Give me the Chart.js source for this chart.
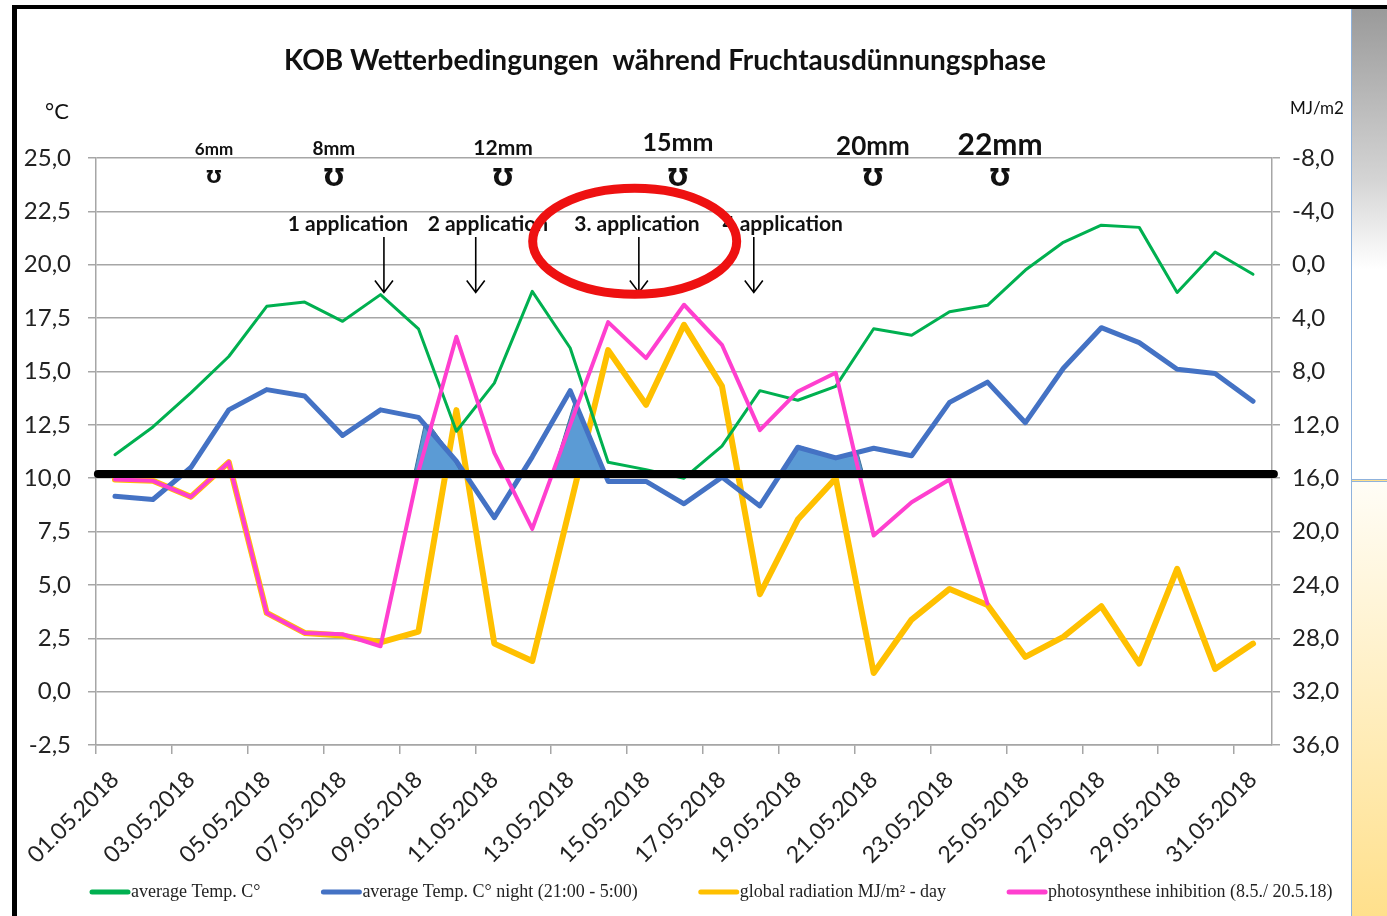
<!DOCTYPE html>
<html>
<head>
<meta charset="utf-8">
<script src="https://cdn.jsdelivr.net/npm/chart.js@4.4.1/dist/chart.umd.min.js"></script>
<style>
  html, body { margin: 0; padding: 0; background: #fff; }
  body { width: 1387px; height: 916px; position: relative; overflow: hidden; }
  #frame { position: absolute; left: 12px; top: 5px; right: 0; bottom: 0;
    border-left: 5px solid #000; border-top: 4px solid #000; }
  #strip { position: absolute; left: 1351px; top: 9px; width: 36px; height: 470px;
    border-left: 1px solid #8fb2dc;
    background: linear-gradient(to bottom, #9a9a9a 0px, #d4d4d4 170px, #fff 260px, #fff 100%); }
  #strip2 { position: absolute; left: 1351px; top: 479px; width: 36px; bottom: 0;
    border-left: 1px solid #8fb2dc; border-top: 3px double #8fb2dc;
    background: linear-gradient(to bottom, #fffdf6, #ffe08c); }
  #wrap { position: absolute; left: 17px; top: 9px; width: 1334px; height: 907px; }
</style>
</head>
<body>
<div id="frame"></div>
<div id="strip"></div>
<div id="strip2"></div>
<div id="wrap"><canvas id="c" width="1334" height="907"></canvas></div>
<script>
// categories
const days = ['01.05.2018', '02.05.2018', '03.05.2018', '04.05.2018', '05.05.2018', '06.05.2018',
  '07.05.2018', '08.05.2018', '09.05.2018', '10.05.2018', '11.05.2018', '12.05.2018',
  '13.05.2018', '14.05.2018', '15.05.2018', '16.05.2018', '17.05.2018', '18.05.2018',
  '19.05.2018', '20.05.2018', '21.05.2018', '22.05.2018', '23.05.2018', '24.05.2018',
  '25.05.2018', '26.05.2018', '27.05.2018', '28.05.2018', '29.05.2018', '30.05.2018', '31.05.2018'];

// °C, left axis
const tempDay = [11.1, 12.4, 14.0, 15.7, 18.05, 18.25, 17.35, 18.6, 17.0, 12.2, 14.45, 18.75, 16.1,
  10.75, 10.4, 10.0, 11.5, 14.1, 13.65, 14.3, 17.0, 16.7, 17.8, 18.1, 19.75, 21.05, 21.85, 21.75,
  18.7, 20.6, 19.55];
const tempNight = [9.15, 9.0, 10.5, 13.2, 14.15, 13.85, 12.0, 13.2, 12.85, 10.8, 8.15, 11.0, 14.1,
  9.85, 9.85, 8.8, 10.05, 8.7, 11.45, 10.95, 11.4, 11.05, 13.55, 14.5, 12.6, 15.15, 17.05, 16.35,
  15.1, 14.9, 13.6];

// MJ/m2, right axis (reversed)
const radiation = [16.1, 16.2, 17.4, 14.8, 26.1, 27.6, 27.8, 28.3, 27.5, 10.9, 28.4, 29.7, 18.1,
  6.4, 10.5, 4.5, 9.1, 24.7, 19.1, 16.0, 30.6, 26.6, 24.3, 25.5, 29.4, 27.9, 25.6, 29.9, 22.8,
  30.3, 28.4];
const inhibition = [16.1, 16.2, 17.4, 14.8, 26.1, 27.6, 27.7, 28.6, 15.5, 5.4, 14.1, 19.8, 12.0,
  4.3, 7.0, 3.0, 6.0, 12.4, 9.5, 8.1, 20.3, 17.8, 16.1, 25.4, null, null, null, null, null, null, null];

// threshold line and shaded night-temperature peaks (x = day index)
const threshold = 10.2;
const shadeA = [{ x: 7.88, y: 10.25 }, { x: 8.14, y: 12.4 }, { x: 8.32, y: 12.45 }, { x: 8.77, y: 11.35 }, { x: 9.12, y: 10.25 }];
const shadeB = [{ x: 11.54, y: 10.25 }, { x: 12.11, y: 13.6 }, { x: 12.86, y: 10.25 }];
const shadeC = [{ x: 17.62, y: 10.25 }, { x: 18.06, y: 11.5 }, { x: 19.07, y: 10.95 }, { x: 19.6, y: 11.1 }, { x: 19.73, y: 10.25 }];

// annotations
const rainLabels = ['6mm', '8mm', '12mm', '15mm', '20mm', '22mm'];
const rainAt = [2.61, 5.77, 10.23, 14.84, 19.98, 23.33];
const applications = ['1 application', '2 application', '3. application', '4 application'];
const applicationAt = [6.14, 9.83, 13.76, 17.6];
const arrowAt = [7.09, 9.51, 13.81, 16.84];

const fmt = v => v.toFixed(1).replace('.', ',');
const GRID = '#a6a6a6';

const overlay = {
  id: 'overlay',
  afterDraw(chart) {
    const ctx = chart.ctx;
    const xs = chart.scales.xs, y = chart.scales.y;
    const px = v => xs.getPixelForValue(v);
    const py = v => y.getPixelForValue(v);
    ctx.save();
    ctx.fillStyle = '#111';
    ctx.textBaseline = 'alphabetic';
    ctx.textAlign = 'center';

    ctx.font = 'bold 28px Lato';
    ctx.fillText('KOB Wetterbedingungen  während Fruchtausdünnungsphase', 648, 61);

    ctx.font = '22px Lato';
    ctx.fillText('°C', 40, 110);
    ctx.font = '17px Lato';
    ctx.fillText('MJ/m2', 1300, 105);

    // rain amounts
    const rainSize = [17, 19, 21, 25, 26, 30];
    const symSize = [18, 24, 24, 24, 24, 24];
    rainLabels.forEach((t, i) => {
      ctx.font = 'bold ' + rainSize[i] + 'px Lato';
      ctx.fillText(t, px(rainAt[i]), py(i === 3 ? 25.35 : 25.15));
      ctx.font = 'bold ' + symSize[i] + 'px "DejaVu Sans"';
      ctx.fillText('Ʊ', px(rainAt[i]), py(i === 0 ? 23.85 : 23.7));
    });

    // applications
    ctx.font = 'bold 21px Lato';
    applications.forEach((t, i) => {
      ctx.fillText(t, px(applicationAt[i]), py(21.6));
    });
    ctx.strokeStyle = '#000';
    ctx.lineWidth = 1.6;
    arrowAt.forEach(a => {
      const x = px(a), y0 = py(21.3), y1 = py(18.7);
      ctx.beginPath();
      ctx.moveTo(x, y0); ctx.lineTo(x, y1);
      ctx.moveTo(x - 9, y1 - 12); ctx.lineTo(x, y1); ctx.lineTo(x + 9, y1 - 12);
      ctx.stroke();
    });

    // red ellipse
    ctx.strokeStyle = '#ee1111';
    ctx.lineWidth = 9;
    ctx.beginPath();
    ctx.ellipse(px(13.7), py(21.1), 102, 53, 0, 0, Math.PI * 2);
    ctx.stroke();

    // legend
    let lx = 73;
    const ly = 883;
    [0, 1, 2, 3].forEach(i => {
      const ds = chart.data.datasets[i];
      ctx.strokeStyle = ds.borderColor;
      ctx.lineWidth = 5;
      ctx.lineCap = 'round';
      ctx.beginPath(); ctx.moveTo(lx + 2, ly); ctx.lineTo(lx + 38, ly); ctx.stroke();
      ctx.font = '18px "Liberation Serif"';
      ctx.textAlign = 'left';
      ctx.textBaseline = 'middle';
      ctx.fillStyle = '#222';
      ctx.fillText(ds.label, lx + 41, ly);
      lx += 41 + ctx.measureText(ds.label).width + 61;
    });
    ctx.restore();
  }
};

const shade = (data) => ({
  type: 'line', data: data, xAxisID: 'xs', yAxisID: 'y',
  borderColor: '#41719c', borderWidth: 1, backgroundColor: '#5b9bd5',
  fill: { value: 10.25 }, pointRadius: 0, order: 4,
});

new Chart(document.getElementById('c'), {
  type: 'line',
  data: {
    labels: days,
    datasets: [
      { label: 'average Temp. C°', data: tempDay, yAxisID: 'y', borderColor: '#00b050', borderWidth: 3, order: 2 },
      { label: 'average Temp. C° night (21:00 - 5:00)', data: tempNight, yAxisID: 'y', borderColor: '#4472c4', borderWidth: 5, order: 3 },
      { label: 'global radiation MJ/m² - day', data: radiation, yAxisID: 'y1', borderColor: '#ffc000', borderWidth: 6, order: 5 },
      { label: 'photosynthese inhibition (8.5./ 20.5.18)', data: inhibition, yAxisID: 'y1', borderColor: '#ff3fcf', borderWidth: 4, order: 1 },
      shade(shadeA),
      shade(shadeB),
      shade(shadeC),
      {
        data: [{ x: -0.45, y: threshold }, { x: 30.55, y: threshold }], xAxisID: 'xs', yAxisID: 'y',
        borderColor: '#000', borderWidth: 8, pointRadius: 0, order: 0, clip: 6,
      },
    ],
  },
  options: {
    responsive: false,
    animation: false,
    layout: { padding: { top: 149, left: 0, right: 0, bottom: 0 } },
    elements: {
      point: { radius: 0 },
      line: { tension: 0, borderCapStyle: 'round', borderJoinStyle: 'round' },
    },
    plugins: { legend: { display: false }, tooltip: { enabled: false } },
    scales: {
      x: {
        type: 'category',
        offset: true,
        afterFit: (s) => { s.height = 171; },
        border: { color: GRID, width: 1.5 },
        grid: {
          offset: true, drawOnChartArea: false, tickLength: 9, lineWidth: 1.5,
          color: (c) => (c.index % 2 === 0 ? GRID : 'rgba(0,0,0,0)'),
        },
        ticks: {
          autoSkip: false, maxRotation: 45, minRotation: 45, padding: 12,
          color: '#222', font: { family: 'Lato', size: 23 },
          callback: function (v, i) { return i % 2 === 0 ? this.getLabelForValue(v) : ''; },
        },
      },
      xs: { type: 'linear', display: false, min: -0.5, max: 30.5 },
      y: {
        position: 'left', min: -2.5, max: 25,
        afterFit: (s) => { s.width = 79; },
        border: { color: GRID, width: 1.5 },
        grid: { color: GRID, lineWidth: 1.5, tickLength: 8 },
        ticks: { stepSize: 2.5, padding: 17, color: '#222', font: { family: 'Lato', size: 24 }, callback: fmt },
      },
      y1: {
        position: 'right', min: -8, max: 36, reverse: true,
        afterFit: (s) => { s.width = 79; },
        border: { color: GRID, width: 1.5 },
        grid: { drawOnChartArea: false, color: GRID, lineWidth: 1.5, tickLength: 8 },
        ticks: { stepSize: 4, padding: 12, color: '#222', font: { family: 'Lato', size: 24 }, callback: fmt },
      },
    },
  },
  plugins: [overlay],
});
</script>
</body>
</html>
